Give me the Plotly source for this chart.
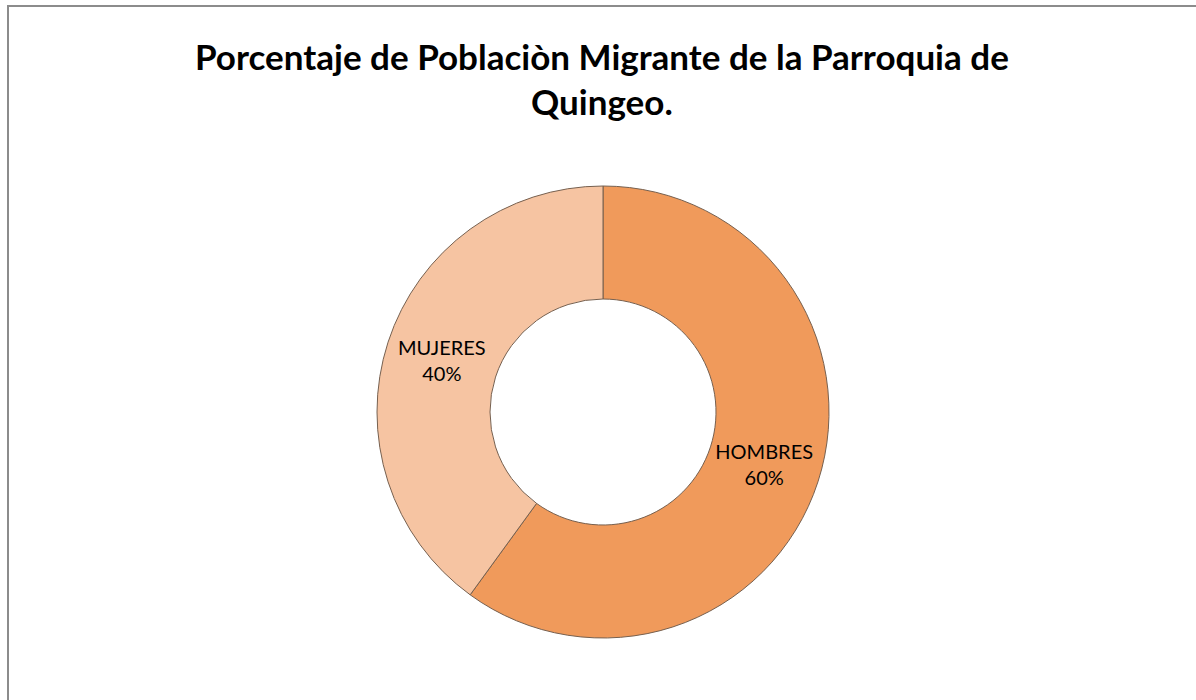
import plotly.graph_objects as go

labels = ["HOMBRES", "MUJERES"]
values = [60, 40]
colors = ["#F09A5B", "#F6C4A2"]
title_lines = ["Porcentaje de Poblaciòn Migrante de la Parroquia de", "Quingeo."]

W, H = 1196, 700
cx, cy, R = 603, 412, 226

fig = go.Figure(go.Pie(
    labels=labels,
    values=values,
    hole=0.5,
    sort=False,
    direction="clockwise",
    rotation=0,
    marker=dict(colors=colors, line=dict(color="#76604f", width=1)),
    textinfo="label+percent",
    textposition="inside",
    insidetextorientation="horizontal",
    textfont=dict(family="Lato", size=20, color="#000000"),
    domain=dict(x=[(cx - R) / W, (cx + R) / W], y=[(H - cy - R) / H, (H - cy + R) / H]),
    showlegend=False,
    hoverinfo="label+percent",
))

title_y = [56, 101]
for txt, yy in zip(title_lines, title_y):
    fig.add_annotation(
        text=f"<b>{txt}</b>", x=602 / W, y=1 - yy / H, xref="paper", yref="paper",
        xanchor="center", yanchor="middle", showarrow=False,
        font=dict(family="Lato", size=35, color="#000000"),
    )

fig.add_shape(type="rect", xref="paper", yref="paper",
              x0=8 / W, y0=-0.05, x1=1.05, y1=1 - 6 / H,
              line=dict(color="#8c8c8c", width=2), fillcolor="rgba(0,0,0,0)")

fig.update_layout(
    width=W, height=H,
    margin=dict(l=0, r=0, t=0, b=0),
    paper_bgcolor="#ffffff",
    plot_bgcolor="#ffffff",
)

fig.write_html("out.html", config={"displayModeBar": False},
               post_script="document.body.style.margin='0';")
